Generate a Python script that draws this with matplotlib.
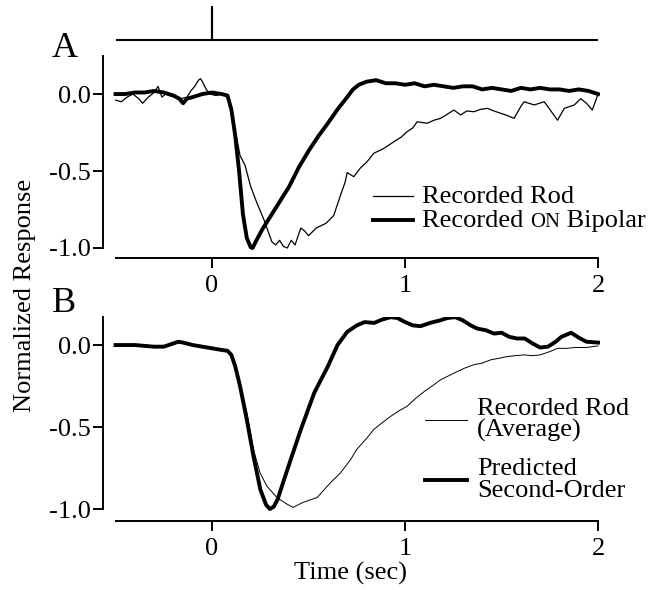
import matplotlib
matplotlib.use('Agg')
import matplotlib.pyplot as plt

plt.rcParams['font.family'] = ['Liberation Serif', 'DejaVu Serif']

# ---------------- data ----------------
stim_t = [-0.5, 0.0, 0.0, 0.0, 2.0]
stim_v = [0.0, 0.0, 1.0, 0.0, 0.0]

# Panel A: recorded ON bipolar (thick)
bip_t = [-0.50, -0.45, -0.40, -0.35, -0.30, -0.25, -0.20, -0.17, -0.15, -0.13, -0.10, -0.05,
         0.00, 0.05, 0.08, 0.10, 0.12, 0.14, 0.16, 0.18, 0.20, 0.21, 0.23, 0.26, 0.30, 0.35,
         0.40, 0.45, 0.50, 0.55, 0.60, 0.65, 0.70, 0.73, 0.76, 0.80, 0.85, 0.90, 0.95, 1.00,
         1.05, 1.10, 1.15, 1.20, 1.25, 1.30, 1.35, 1.40, 1.45, 1.50, 1.55, 1.60, 1.65, 1.70,
         1.75, 1.80, 1.85, 1.90, 1.95, 2.00]
bip_v = [0.00, 0.00, 0.01, 0.01, 0.02, 0.01, -0.01, -0.03, -0.06, -0.03, -0.02, 0.00,
         0.01, 0.00, -0.01, -0.10, -0.27, -0.50, -0.78, -0.935, -0.995, -1.00, -0.95, -0.88, -0.80, -0.70,
         -0.60, -0.475, -0.37, -0.275, -0.19, -0.10, -0.02, 0.03, 0.06, 0.08, 0.09, 0.07, 0.07, 0.06,
         0.07, 0.05, 0.06, 0.05, 0.04, 0.05, 0.05, 0.03, 0.04, 0.03, 0.02, 0.04, 0.03, 0.04,
         0.03, 0.03, 0.02, 0.03, 0.02, 0.00]

# Panel A: recorded rod (thin)
rodA_t = [-0.50, -0.47, -0.44, -0.41, -0.38, -0.36, -0.33, -0.30, -0.28, -0.26, -0.24, -0.22,
          -0.19, -0.16, -0.13, -0.11, -0.09, -0.07, -0.06, -0.05, -0.03, -0.01, 0.02, 0.05,
          0.08, 0.10, 0.13, 0.145, 0.17, 0.20, 0.23, 0.27, 0.29, 0.31, 0.33, 0.35, 0.37, 0.39,
          0.41, 0.43, 0.46, 0.48, 0.50, 0.54, 0.59, 0.63, 0.665, 0.69, 0.70, 0.734, 0.769,
          0.803, 0.838, 0.89, 0.942, 0.98, 1.01, 1.04, 1.063, 1.115, 1.15, 1.184, 1.22, 1.253,
          1.288, 1.32, 1.357, 1.39, 1.427, 1.46, 1.496, 1.53, 1.565, 1.60, 1.617, 1.669,
          1.721, 1.75, 1.79, 1.825, 1.877, 1.91, 1.94, 1.97, 2.00]
rodA_v = [-0.04, -0.05, -0.02, 0.00, -0.03, -0.06, -0.02, 0.01, 0.05, -0.02, 0.00, -0.01,
          -0.02, -0.03, -0.02, 0.02, 0.05, 0.09, 0.10, 0.08, 0.03, 0.00, -0.01, 0.00,
          -0.01, -0.12, -0.30, -0.40, -0.46, -0.60, -0.70, -0.82, -0.89, -0.96, -0.98, -0.95, -0.99, -1.00,
          -0.95, -0.98, -0.87, -0.89, -0.92, -0.87, -0.84, -0.79, -0.66, -0.57, -0.51, -0.537, -0.48,
          -0.44, -0.385, -0.353, -0.31, -0.28, -0.245, -0.22, -0.18, -0.19, -0.17, -0.158, -0.13, -0.104,
          -0.136, -0.11, -0.115, -0.10, -0.093, -0.11, -0.125, -0.14, -0.158, -0.08, -0.05, -0.071,
          -0.05, -0.10, -0.17, -0.093, -0.071, -0.03, -0.06, -0.104, 0.00]

# Panel B: predicted second-order (thick)
pred_t = [-0.50, -0.45, -0.40, -0.35, -0.30, -0.25, -0.20, -0.175, -0.15, -0.10, -0.05, 0.00,
          0.05, 0.08, 0.10, 0.12, 0.145, 0.18, 0.215, 0.25, 0.28, 0.30, 0.32, 0.34, 0.39,
          0.46, 0.53, 0.60, 0.65, 0.70, 0.75, 0.79, 0.84, 0.88, 0.925, 0.96, 1.00, 1.04,
          1.08, 1.13, 1.18, 1.22, 1.26, 1.30, 1.34, 1.375, 1.42, 1.46, 1.50, 1.54, 1.58,
          1.62, 1.66, 1.70, 1.74, 1.78, 1.81, 1.86, 1.90, 1.94, 2.00]
pred_v = [0.00, 0.00, 0.00, -0.005, -0.01, -0.01, 0.01, 0.02, 0.015, 0.00, -0.01, -0.02,
          -0.03, -0.035, -0.06, -0.13, -0.25, -0.455, -0.68, -0.88, -0.975, -1.00, -0.985, -0.94, -0.76,
          -0.515, -0.29, -0.13, 0.00, 0.08, 0.12, 0.14, 0.135, 0.155, 0.17, 0.165, 0.14, 0.12,
          0.115, 0.135, 0.15, 0.165, 0.17, 0.15, 0.12, 0.10, 0.09, 0.07, 0.075, 0.05, 0.04,
          0.04, 0.01, -0.015, -0.01, 0.02, 0.05, 0.075, 0.045, 0.02, 0.015]

# Panel B: recorded rod average (thin)
rodB_t = [-0.50, -0.45, -0.40, -0.35, -0.30, -0.25, -0.20, -0.175, -0.15, -0.10, -0.05, 0.00,
          0.05, 0.08, 0.10, 0.12, 0.145, 0.18, 0.215, 0.249, 0.284, 0.336, 0.388, 0.42, 0.47,
          0.544, 0.613, 0.665, 0.717, 0.75, 0.80, 0.838, 0.88, 0.925, 0.97, 1.01, 1.05, 1.10,
          1.14, 1.184, 1.23, 1.27, 1.31, 1.357, 1.40, 1.444, 1.49, 1.53, 1.57, 1.617, 1.66,
          1.70, 1.75, 1.79, 1.84, 1.88, 1.94, 2.00]
rodB_v = [0.00, -0.005, 0.00, -0.01, -0.005, -0.01, 0.01, 0.015, 0.01, 0.00, -0.01, -0.02,
          -0.03, -0.04, -0.07, -0.12, -0.24, -0.41, -0.64, -0.78, -0.86, -0.93, -0.97, -0.99, -0.96,
          -0.93, -0.84, -0.78, -0.70, -0.636, -0.57, -0.515, -0.475, -0.435, -0.40, -0.374, -0.33, -0.283,
          -0.25, -0.212, -0.185, -0.162, -0.14, -0.12, -0.11, -0.09, -0.08, -0.07, -0.065, -0.06, -0.065,
          -0.06, -0.04, -0.02, -0.02, -0.015, -0.015, -0.005]

x_ticks = [0, 1, 2]
x_ticklabels = ['0', '1', '2']
y_ticks = [-1.0, -0.5, 0.0]
y_ticklabels = ['-1.0', '-0.5', '0.0']

# ---------------- layout ----------------
W, H = 662, 590
fig = plt.figure(figsize=(W / 100, H / 100), dpi=100)


def rect(x0, y0, x1, y1):
    return [x0 / W, 1 - y1 / H, (x1 - x0) / W, (y1 - y0) / H]


XL = (-0.565, 2.01)
FS = 19
SW = 1.4

axS = fig.add_axes(rect(103, 7, 600, 40))
axS.plot(stim_t, stim_v, color='black', lw=1.5, clip_on=False, solid_capstyle='butt')
axS.set_xlim(*XL)
axS.set_ylim(0, 1)
axS.axis('off')

axA = fig.add_axes(rect(103, 56, 600, 258))
axB = fig.add_axes(rect(103, 317, 600, 521))

for ax, top, bottom in ((axA, 0.247, -1.065), (axB, 0.171, -1.073)):
    ax.set_xlim(*XL)
    ax.set_ylim(bottom, top)
    ax.spines['top'].set_visible(False)
    ax.spines['right'].set_visible(False)
    ax.spines['left'].set_bounds(-1.0, top)
    ax.spines['bottom'].set_bounds(-0.5, 2.0)
    for s in ('left', 'bottom'):
        ax.spines[s].set_linewidth(SW)
    ax.set_xticks(x_ticks)
    ax.set_xticklabels(x_ticklabels)
    ax.set_yticks(y_ticks)
    ax.set_yticklabels(y_ticklabels)
    ax.tick_params(axis='both', direction='out', length=7, width=SW, labelsize=FS)
    ax.tick_params(axis='y', pad=2)
    ax.tick_params(axis='x', pad=5)

axA.plot(rodA_t, rodA_v, color='black', lw=0.9)
axA.plot(bip_t, bip_v, color='black', lw=2.8)
axB.plot(rodB_t, rodB_v, color='black', lw=0.7)
axB.plot(pred_t, pred_v, color='black', lw=2.8)

# legend A
yA1, yA2 = -0.662, -0.818
BOFF = 0.045
axA.plot([0.834, 1.041], [yA1, yA1], color='black', lw=0.9)
axA.plot([0.834, 1.041], [yA2, yA2], color='black', lw=2.8)
axA.text(1.088, yA1 - BOFF, 'Recorded Rod', fontsize=FS, va='baseline', ha='left')
t1 = axA.text(1.088, yA2 - BOFF, 'Recorded ', fontsize=FS, va='baseline', ha='left')

# legend B
axB.plot([1.104, 1.321], [-0.457, -0.457], color='black', lw=0.7)
axB.plot([1.104, 1.321], [-0.823, -0.823], color='black', lw=2.8)
axB.text(1.373, -0.457, 'Recorded Rod\n(Average)', fontsize=FS, va='center', ha='left',
         linespacing=0.95)
axB.text(1.373, -0.823, 'Predicted\nSecond-Order', fontsize=FS, va='center', ha='left',
         linespacing=0.95)

# panel letters and axis labels
fig.text(52 / W, 1 - 57 / H, 'A', fontsize=26, va='baseline', ha='left')
fig.text(52 / W, 1 - 312 / H, 'B', fontsize=26, va='baseline', ha='left')
fig.text(25 / W, 1 - 295 / H, 'Normalized Response', fontsize=FS, rotation=90,
         va='center', ha='center')
fig.text(350 / W, 1 - 573 / H, 'Time (sec)', fontsize=FS, va='center', ha='center')

# small caps "ON" after "Recorded ", all on one baseline
fig.canvas.draw()
r = fig.canvas.get_renderer()
bb = t1.get_window_extent(r)
inv = axA.transData.inverted()
x_on = inv.transform((bb.x1, 0))[0]
t2 = axA.text(x_on, yA2 - BOFF, 'ON', fontsize=FS * 0.78, va='baseline', ha='left')
fig.canvas.draw()
bb2 = t2.get_window_extent(r)
x_bi = inv.transform((bb2.x1, 0))[0]
axA.text(x_bi, yA2 - BOFF, ' Bipolar', fontsize=FS, va='baseline', ha='left')

fig.savefig('out.png', dpi=100)
